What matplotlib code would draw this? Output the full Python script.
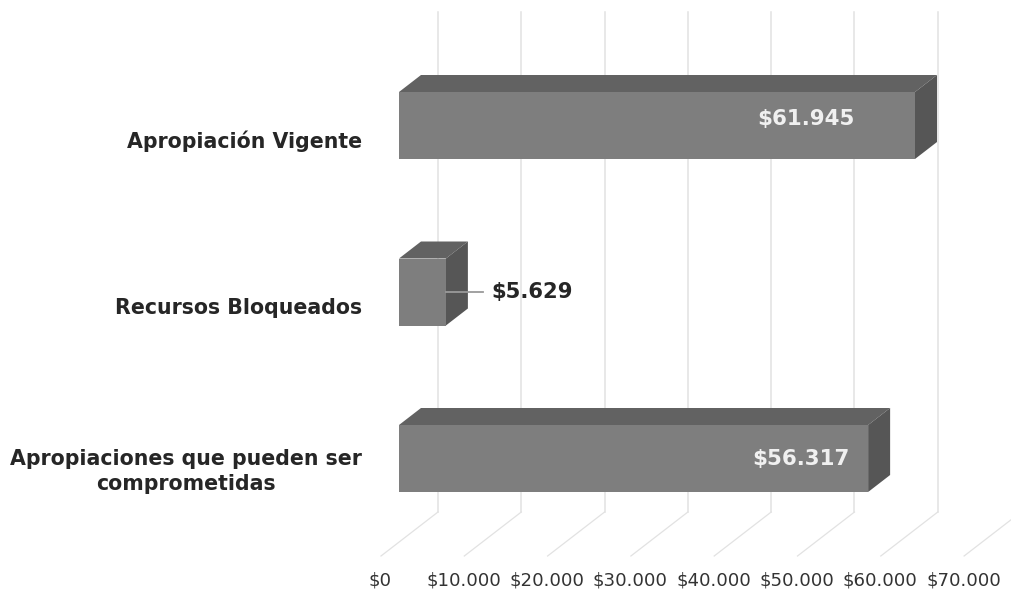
import matplotlib

matplotlib.use("Agg")
import matplotlib.pyplot as plt
from matplotlib.patches import Polygon

categories = ["Apropiación Vigente", "Recursos Bloqueados", "Apropiaciones que pueden ser\ncomprometidas"]
values = [61945, 5629, 56317]
value_labels = ["$61.945", "$5.629", "$56.317"]
ticks = [0, 10000, 20000, 30000, 40000, 50000, 60000, 70000]
tick_labels = ["$0", "$10.000", "$20.000", "$30.000", "$40.000", "$50.000", "$60.000", "$70.000"]

W, H = 1011, 590
PX_X = 83.3 / 10000  # pixels per unit of value
PX_Y = 166.5  # pixels per category
X0, Y0 = 399, 125.5  # where value 0 / first category sit on the page

fig = plt.figure(figsize=(W / 100, H / 100), dpi=100)
ax = fig.add_axes([0, 0, 1, 1])
ax.set_xlim(-X0 / PX_X, (W - X0) / PX_X)
ax.set_ylim((H - Y0) / PX_Y, -Y0 / PX_Y)
ax.axis("off")

dx = 22 / PX_X  # bar depth
dy = 17 / PX_Y
half = 33.5 / PX_Y  # half bar height
floor_y = (512 - Y0) / PX_Y
top_y = (12 - Y0) / PX_Y
wall_dx = 39 / PX_X  # back wall offset from bar front
run_dx = 57 / PX_X  # floor line run
run_dy = 44 / PX_Y

# label nudges in pixels (x from bar end, y from bar centre), inside labels only
inside_nudge = {0: (-60, -7), 2: (-18, 1)}

GRID = "#e2e2e2"
for t in ticks:
    x = t + wall_dx
    ax.plot([x, x], [top_y, floor_y], color=GRID, lw=1.1, zorder=1)
    ax.plot([x, x - run_dx], [floor_y, floor_y + run_dy], color=GRID, lw=0.9, zorder=1)

for i, (v, cat, lab) in enumerate(zip(values, categories, value_labels)):
    y0, y1 = i - half, i + half
    ax.add_patch(Polygon([(0, y0), (dx, y0 - dy), (v + dx, y0 - dy), (v, y0)], fc="#626262", ec="none", zorder=3))
    ax.add_patch(Polygon([(v, y0), (v + dx, y0 - dy), (v + dx, y1 - dy), (v, y1)], fc="#565656", ec="none", zorder=3))
    ax.add_patch(Polygon([(0, y0), (v, y0), (v, y1), (0, y1)], fc="#7e7e7e", ec="none", zorder=4))
    cat_off = 13 if "\n" in cat else 16
    ax.text(-37 / PX_X, i + cat_off / PX_Y, cat, ha="right", multialignment="center", va="center", fontsize=14.8,
            fontweight="bold", color="#262626", linespacing=1.3, zorder=5)
    if i in inside_nudge:
        nx, ny = inside_nudge[i]
        ax.text(v + nx / PX_X, i + ny / PX_Y, lab, ha="right", va="center", fontsize=15.4,
                fontweight="bold", color="#f0f0f0", zorder=5)
    else:
        ax.plot([v, v + 37 / PX_X], [i, i], color="#9a9a9a", lw=1.3, zorder=5)
        ax.text(v + 45 / PX_X, i, lab, ha="left", va="center", fontsize=15.2,
                fontweight="bold", color="#262626", zorder=5)

for t, lab in zip(ticks, tick_labels):
    ax.text(t - 18.5 / PX_X, (580 - Y0) / PX_Y, lab, ha="center", va="center", fontsize=13.1, color="#333333")

fig.savefig("out.png", dpi=100, facecolor="white")
